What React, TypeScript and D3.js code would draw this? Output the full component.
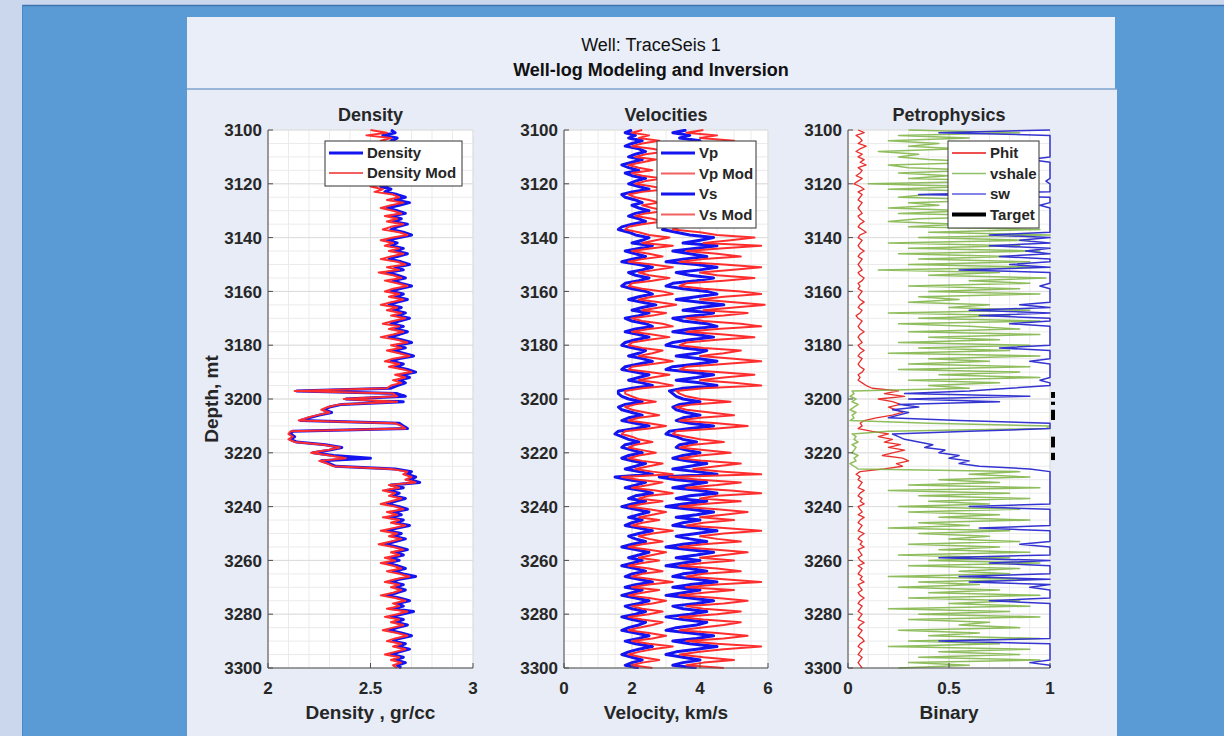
import React from 'react';
import * as d3 from 'd3';

// ---------- data (1 m sampling, 3100 .. 3300 m) ----------
const depthStart = 3100;
const depthEnd = 3300;
const depthTicks = [3100, 3120, 3140, 3160, 3180, 3200, 3220, 3240, 3260, 3280, 3300];
const densityTicks = [2, 2.5, 3];
const velocityTicks = [0, 2, 4, 6];
const binaryTicks = [0, 0.5, 1];

const density = [
  2.60, 2.62, 2.56, 2.63, 2.60, 2.64, 2.58, 2.62, 2.60, 2.63, 2.57, 2.61, 2.59, 2.64, 2.58, 2.62, 2.56, 2.60, 2.63, 2.58,
  2.62, 2.55, 2.60, 2.57, 2.63, 2.67, 2.62, 2.69, 2.64, 2.58, 2.63, 2.67, 2.60, 2.65, 2.61, 2.68, 2.63, 2.60, 2.66, 2.70,
  2.64, 2.58, 2.63, 2.60, 2.66, 2.62, 2.68, 2.63, 2.59, 2.65, 2.69, 2.62, 2.66, 2.58, 2.63, 2.67, 2.61, 2.65, 2.70, 2.64,
  2.60, 2.66, 2.62, 2.68, 2.63, 2.59, 2.65, 2.61, 2.67, 2.63, 2.69, 2.64, 2.60, 2.66, 2.62, 2.68, 2.64, 2.59, 2.65, 2.70,
  2.63, 2.67, 2.61, 2.66, 2.71, 2.64, 2.60, 2.66, 2.62, 2.68, 2.72, 2.65, 2.69, 2.64, 2.67, 2.63, 2.60, 2.14, 2.63, 2.67,
  2.38, 2.66, 2.36, 2.30, 2.27, 2.31, 2.25, 2.20, 2.16, 2.64, 2.66, 2.68, 2.12, 2.11, 2.13, 2.11, 2.14, 2.28, 2.36, 2.30,
  2.22, 2.32, 2.50, 2.26, 2.30, 2.33, 2.62, 2.70, 2.68, 2.72, 2.69, 2.74, 2.60, 2.66, 2.58, 2.64, 2.61, 2.67, 2.62, 2.58,
  2.64, 2.68, 2.61, 2.65, 2.59, 2.66, 2.62, 2.69, 2.63, 2.58, 2.65, 2.61, 2.67, 2.62, 2.57, 2.63, 2.68, 2.62, 2.66, 2.60,
  2.64, 2.58, 2.63, 2.67, 2.61, 2.66, 2.72, 2.64, 2.60, 2.66, 2.62, 2.67, 2.63, 2.58, 2.64, 2.69, 2.63, 2.66, 2.61, 2.71,
  2.65, 2.60, 2.66, 2.62, 2.68, 2.63, 2.59, 2.65, 2.70, 2.64, 2.61, 2.67, 2.63, 2.69, 2.64, 2.60, 2.66, 2.62, 2.67, 2.63, 2.65,
];

const densityMod = [
  2.50, 2.58, 2.48, 2.60, 2.55, 2.62, 2.54, 2.60, 2.57, 2.61, 2.53, 2.59, 2.56, 2.62, 2.54, 2.60, 2.52, 2.58, 2.61, 2.54,
  2.58, 2.50, 2.56, 2.52, 2.61, 2.64, 2.58, 2.66, 2.60, 2.55, 2.61, 2.65, 2.57, 2.63, 2.58, 2.66, 2.60, 2.56, 2.64, 2.68,
  2.61, 2.55, 2.61, 2.57, 2.64, 2.59, 2.66, 2.60, 2.55, 2.63, 2.67, 2.58, 2.64, 2.54, 2.61, 2.65, 2.57, 2.63, 2.68, 2.61,
  2.57, 2.64, 2.59, 2.66, 2.60, 2.55, 2.63, 2.58, 2.65, 2.60, 2.67, 2.61, 2.56, 2.64, 2.59, 2.66, 2.61, 2.55, 2.63, 2.68,
  2.60, 2.65, 2.58, 2.64, 2.69, 2.61, 2.57, 2.64, 2.59, 2.66, 2.70, 2.62, 2.67, 2.61, 2.65, 2.60, 2.58, 2.13, 2.61, 2.63,
  2.37, 2.63, 2.35, 2.29, 2.26, 2.30, 2.24, 2.19, 2.15, 2.62, 2.65, 2.67, 2.11, 2.10, 2.12, 2.10, 2.13, 2.27, 2.35, 2.29,
  2.21, 2.30, 2.38, 2.25, 2.29, 2.32, 2.60, 2.68, 2.66, 2.70, 2.67, 2.72, 2.59, 2.64, 2.56, 2.62, 2.59, 2.65, 2.60, 2.55,
  2.62, 2.66, 2.58, 2.63, 2.56, 2.64, 2.60, 2.67, 2.61, 2.55, 2.63, 2.59, 2.65, 2.60, 2.54, 2.61, 2.66, 2.60, 2.64, 2.57,
  2.62, 2.55, 2.61, 2.65, 2.58, 2.64, 2.69, 2.62, 2.57, 2.64, 2.60, 2.65, 2.61, 2.55, 2.62, 2.67, 2.61, 2.64, 2.58, 2.68,
  2.63, 2.57, 2.64, 2.60, 2.66, 2.61, 2.56, 2.63, 2.68, 2.62, 2.58, 2.65, 2.61, 2.67, 2.62, 2.57, 2.64, 2.60, 2.65, 2.61, 2.63,
];

const vp = [
  3.6, 3.2, 3.7, 3.4, 4.0, 3.5, 3.2, 3.9, 4.2, 3.7, 3.3, 4.0, 3.5, 3.0, 3.4, 3.9, 3.2, 3.5, 4.2, 3.7,
  3.3, 3.9, 4.4, 3.5, 3.0, 3.2, 3.7, 4.0, 3.5, 3.9, 4.4, 3.7, 3.3, 3.9, 4.2, 3.5, 3.0, 2.9, 3.3, 3.7,
  4.4, 4.0, 3.5, 4.5, 3.9, 3.2, 3.7, 4.2, 3.5, 3.0, 3.9, 4.5, 4.0, 3.3, 3.7, 4.4, 3.9, 3.2, 3.0, 3.5,
  4.2, 4.5, 3.9, 3.3, 4.0, 4.7, 4.0, 3.5, 4.4, 3.9, 3.2, 3.5, 4.2, 4.5, 3.7, 3.2, 3.9, 4.4, 3.7, 3.2,
  3.0, 3.5, 4.2, 3.9, 3.3, 4.0, 4.5, 3.9, 3.2, 3.0, 3.7, 4.4, 3.9, 3.3, 4.0, 4.5, 3.5, 3.1, 3.2, 3.3,
  3.5, 4.0, 3.4, 3.2, 3.3, 3.6, 4.0, 3.5, 3.3, 3.7, 4.4, 3.7, 3.1, 3.0, 3.3, 3.5, 3.9, 3.4, 3.3, 3.6,
  4.0, 3.5, 3.2, 3.6, 4.2, 3.7, 3.2, 3.9, 4.5, 2.8, 3.3, 4.2, 3.7, 3.2, 4.0, 4.5, 3.7, 3.3, 4.2, 3.5,
  3.0, 3.7, 4.4, 3.9, 3.3, 4.0, 3.5, 3.2, 3.9, 4.5, 3.9, 3.3, 3.7, 4.2, 3.5, 3.0, 3.7, 4.4, 3.9, 3.3,
  4.0, 3.5, 3.0, 3.7, 4.2, 3.5, 3.2, 3.9, 4.5, 3.7, 3.2, 4.0, 3.5, 3.0, 3.7, 4.4, 3.9, 3.2, 3.5, 4.2,
  3.7, 3.0, 3.5, 4.2, 3.9, 3.3, 3.0, 3.7, 4.4, 3.9, 3.2, 3.7, 4.5, 3.9, 3.3, 3.0, 3.5, 4.0, 3.5, 3.2, 3.9,
];

const vpMod = [
  4.1, 3.6, 4.5, 4.0, 5.0, 4.1, 3.6, 4.7, 5.4, 4.3, 3.8, 4.9, 4.1, 3.4, 4.0, 4.7, 3.6, 4.1, 5.2, 4.3,
  3.8, 4.7, 5.4, 4.1, 3.4, 3.8, 4.5, 5.0, 4.1, 4.7, 5.4, 4.3, 3.8, 4.7, 5.2, 4.1, 3.4, 3.2, 4.0, 4.5,
  5.6, 4.9, 4.1, 5.8, 4.7, 3.6, 4.5, 5.2, 4.1, 3.4, 4.7, 5.8, 4.9, 4.0, 4.5, 5.6, 4.7, 3.6, 3.4, 4.1,
  5.2, 5.8, 4.7, 4.0, 5.0, 5.9, 5.0, 4.1, 5.4, 4.7, 3.6, 4.1, 5.2, 5.8, 4.5, 3.6, 4.7, 5.6, 4.5, 3.6,
  3.4, 4.1, 5.2, 4.7, 4.0, 5.0, 5.8, 4.7, 3.6, 3.4, 4.5, 5.6, 4.7, 4.0, 5.0, 5.8, 4.1, 3.3, 3.4, 3.6,
  4.0, 4.9, 3.8, 3.3, 3.6, 4.3, 5.0, 4.0, 3.4, 4.5, 5.4, 4.5, 3.3, 3.2, 3.6, 4.0, 4.7, 3.8, 3.4, 4.1,
  4.9, 4.0, 3.4, 4.1, 5.2, 4.5, 3.8, 4.7, 5.8, 3.1, 4.0, 5.2, 4.5, 3.6, 4.9, 5.8, 4.5, 4.0, 5.2, 4.1,
  3.4, 4.5, 5.4, 4.7, 4.0, 5.0, 4.1, 3.6, 4.7, 5.8, 4.7, 4.0, 4.5, 5.2, 4.1, 3.4, 4.5, 5.4, 4.7, 4.0,
  5.0, 4.1, 3.4, 4.5, 5.2, 4.1, 3.6, 4.7, 5.8, 4.5, 3.6, 5.0, 4.1, 3.4, 4.5, 5.4, 4.7, 3.6, 4.1, 5.2,
  4.5, 3.4, 4.1, 5.2, 4.7, 4.0, 3.4, 4.5, 5.4, 4.7, 3.6, 4.5, 5.8, 4.7, 4.0, 3.4, 4.1, 5.0, 4.1, 3.6, 4.7,
];

const vs = [
  2.0, 1.8, 2.1, 1.9, 2.3, 2.0, 1.8, 2.2, 2.4, 2.1, 1.9, 2.3, 2.0, 1.7, 1.9, 2.2, 1.8, 2.0, 2.4, 2.1,
  1.9, 2.2, 2.5, 2.0, 1.7, 1.8, 2.1, 2.3, 2.0, 2.2, 2.5, 2.1, 1.9, 2.2, 2.4, 2.0, 1.7, 1.6, 1.9, 2.1,
  2.5, 2.3, 2.0, 2.6, 2.2, 1.8, 2.1, 2.4, 2.0, 1.7, 2.2, 2.6, 2.3, 1.9, 2.1, 2.5, 2.2, 1.8, 1.7, 2.0,
  2.4, 2.6, 2.2, 1.9, 2.3, 2.7, 2.3, 2.0, 2.5, 2.2, 1.8, 2.0, 2.4, 2.6, 2.1, 1.8, 2.2, 2.5, 2.1, 1.8,
  1.7, 2.0, 2.4, 2.2, 1.9, 2.3, 2.6, 2.2, 1.8, 1.7, 2.1, 2.5, 2.2, 1.9, 2.3, 2.6, 2.0, 1.6, 1.6, 1.7,
  1.9, 2.3, 1.8, 1.6, 1.7, 2.0, 2.3, 1.9, 1.7, 2.1, 2.5, 2.1, 1.6, 1.5, 1.7, 1.9, 2.2, 1.8, 1.7, 2.0,
  2.3, 1.9, 1.7, 2.0, 2.4, 2.1, 1.8, 2.2, 2.6, 1.5, 1.9, 2.4, 2.1, 1.8, 2.3, 2.6, 2.1, 1.9, 2.4, 2.0,
  1.7, 2.1, 2.5, 2.2, 1.9, 2.3, 2.0, 1.8, 2.2, 2.6, 2.2, 1.9, 2.1, 2.4, 2.0, 1.7, 2.1, 2.5, 2.2, 1.9,
  2.3, 2.0, 1.7, 2.1, 2.4, 2.0, 1.8, 2.2, 2.6, 2.1, 1.8, 2.3, 2.0, 1.7, 2.1, 2.5, 2.2, 1.8, 2.0, 2.4,
  2.1, 1.7, 2.0, 2.4, 2.2, 1.9, 1.7, 2.1, 2.5, 2.2, 1.8, 2.1, 2.6, 2.2, 1.9, 1.7, 2.0, 2.3, 2.0, 1.8, 2.2,
];

const vsMod = [
  2.3, 2.0, 2.5, 2.2, 2.8, 2.3, 2.0, 2.6, 3.0, 2.4, 2.1, 2.7, 2.3, 1.9, 2.2, 2.6, 2.0, 2.3, 2.9, 2.4,
  2.1, 2.6, 3.0, 2.3, 1.9, 2.1, 2.5, 2.8, 2.3, 2.6, 3.0, 2.4, 2.1, 2.6, 2.9, 2.3, 1.9, 1.8, 2.2, 2.5,
  3.1, 2.7, 2.3, 3.2, 2.6, 2.0, 2.5, 2.9, 2.3, 1.9, 2.6, 3.2, 2.7, 2.2, 2.5, 3.1, 2.6, 2.0, 1.9, 2.3,
  2.9, 3.2, 2.6, 2.2, 2.8, 3.3, 2.8, 2.3, 3.0, 2.6, 2.0, 2.3, 2.9, 3.2, 2.5, 2.0, 2.6, 3.1, 2.5, 2.0,
  1.9, 2.3, 2.9, 2.6, 2.2, 2.8, 3.2, 2.6, 2.0, 1.9, 2.5, 3.1, 2.6, 2.2, 2.8, 3.2, 2.3, 1.8, 1.8, 2.0,
  2.2, 2.7, 2.1, 1.8, 2.0, 2.4, 2.8, 2.2, 1.9, 2.5, 3.0, 2.5, 1.8, 1.7, 2.0, 2.2, 2.6, 2.1, 1.9, 2.3,
  2.7, 2.2, 1.9, 2.3, 2.9, 2.5, 2.1, 2.6, 3.2, 1.7, 2.2, 2.9, 2.5, 2.0, 2.7, 3.2, 2.5, 2.2, 2.9, 2.3,
  1.9, 2.5, 3.0, 2.6, 2.2, 2.8, 2.3, 2.0, 2.6, 3.2, 2.6, 2.2, 2.5, 2.9, 2.3, 1.9, 2.5, 3.0, 2.6, 2.2,
  2.8, 2.3, 1.9, 2.5, 2.9, 2.3, 2.0, 2.6, 3.2, 2.5, 2.0, 2.8, 2.3, 1.9, 2.5, 3.0, 2.6, 2.0, 2.3, 2.9,
  2.5, 1.9, 2.3, 2.9, 2.6, 2.2, 1.9, 2.5, 3.0, 2.6, 2.0, 2.5, 3.2, 2.6, 2.2, 1.9, 2.3, 2.8, 2.3, 2.0, 2.6,
];

const phit = [
  0.05, 0.08, 0.04, 0.06, 0.07, 0.05, 0.09, 0.06, 0.04, 0.07, 0.05, 0.08, 0.06, 0.09, 0.05, 0.07, 0.06, 0.04, 0.07, 0.05,
  0.03, 0.06, 0.08, 0.05, 0.07, 0.06, 0.05, 0.07, 0.06, 0.05, 0.06, 0.07, 0.05, 0.06, 0.08, 0.06, 0.05, 0.07, 0.09, 0.06,
  0.05, 0.07, 0.06, 0.05, 0.06, 0.08, 0.06, 0.05, 0.07, 0.06, 0.05, 0.06, 0.07, 0.05, 0.06, 0.08, 0.07, 0.05, 0.06, 0.05,
  0.07, 0.06, 0.05, 0.06, 0.08, 0.06, 0.05, 0.07, 0.06, 0.04, 0.05, 0.07, 0.06, 0.05, 0.06, 0.08, 0.06, 0.05, 0.06, 0.07,
  0.05, 0.06, 0.08, 0.06, 0.05, 0.07, 0.06, 0.05, 0.06, 0.08, 0.07, 0.05, 0.06, 0.05, 0.07, 0.09, 0.12, 0.25, 0.18, 0.28,
  0.15, 0.22, 0.26, 0.20, 0.24, 0.27, 0.22, 0.14, 0.08, 0.06, 0.07, 0.05, 0.12, 0.20, 0.15, 0.22, 0.18, 0.26, 0.20, 0.28,
  0.22, 0.17, 0.27, 0.30, 0.24, 0.27, 0.18, 0.06, 0.04, 0.06, 0.05, 0.07, 0.06, 0.05, 0.08, 0.06, 0.05, 0.07, 0.06, 0.08,
  0.05, 0.06, 0.07, 0.05, 0.08, 0.06, 0.05, 0.07, 0.06, 0.05, 0.08, 0.06, 0.05, 0.07, 0.06, 0.08, 0.05, 0.06, 0.07, 0.05,
  0.06, 0.08, 0.05, 0.07, 0.06, 0.05, 0.07, 0.06, 0.08, 0.05, 0.06, 0.07, 0.05, 0.06, 0.08, 0.06, 0.05, 0.07, 0.06, 0.05,
  0.07, 0.06, 0.05, 0.08, 0.06, 0.05, 0.07, 0.06, 0.05, 0.07, 0.08, 0.06, 0.05, 0.07, 0.06, 0.05, 0.07, 0.06, 0.05, 0.06, 0.07,
];

const vshale = [
  0.30, 0.85, 0.25, 0.60, 0.20, 0.45, 0.30, 0.55, 0.15, 0.35, 0.25, 0.40, 0.70, 0.20, 0.30, 0.65, 0.25, 0.50, 0.30, 0.80,
  0.10, 0.60, 0.20, 0.90, 0.40, 0.25, 0.75, 0.30, 0.45, 0.20, 0.60, 0.25, 0.85, 0.35, 0.20, 0.55, 0.30, 0.95, 0.40, 1.00,
  0.35, 0.90, 0.20, 0.85, 0.30, 0.95, 0.25, 0.80, 0.35, 0.90, 0.30, 0.95, 0.15, 0.75, 0.40, 0.98, 0.60, 0.90, 0.30, 0.85,
  0.40, 0.95, 0.35, 0.55, 0.30, 0.70, 0.50, 0.90, 0.20, 0.80, 0.35, 0.95, 0.25, 0.60, 0.85, 0.30, 0.95, 0.40, 0.75, 0.25,
  0.90, 0.35, 0.80, 0.20, 0.95, 0.40, 0.70, 0.30, 0.90, 0.25, 0.85, 0.45, 0.95, 0.30, 0.75, 0.40, 0.60, 0.02, 0.03, 0.01,
  0.04, 0.02, 0.05, 0.03, 0.01, 0.04, 0.02, 0.03, 0.01, 0.40, 1.00, 0.98, 0.20, 0.02, 0.04, 0.03, 0.05, 0.02, 0.04, 0.03,
  0.02, 0.05, 0.03, 0.04, 0.01, 0.03, 0.05, 0.85, 0.60, 0.90, 0.45, 0.75, 0.30, 0.95, 0.20, 0.80, 0.35, 0.90, 0.40, 0.70,
  0.25, 0.85, 0.30, 0.75, 0.45, 0.90, 0.35, 0.60, 0.20, 0.80, 0.35, 0.70, 0.50, 0.85, 0.30, 0.75, 0.45, 0.90, 0.25, 0.80,
  0.40, 0.95, 0.30, 0.85, 0.55, 0.80, 0.20, 0.90, 0.35, 0.65, 0.25, 0.75, 0.40, 0.95, 0.30, 0.85, 0.50, 0.90, 0.20, 0.80,
  0.35, 0.95, 0.30, 0.70, 0.55, 0.85, 0.25, 0.65, 0.40, 0.95, 0.30, 0.75, 0.20, 0.90, 0.45, 0.85, 0.35, 0.95, 0.30, 0.60, 0.25,
];

const sw = [
  1.00, 0.45, 1.00, 1.00, 1.00, 1.00, 1.00, 1.00, 1.00, 1.00, 1.00, 0.90, 1.00, 1.00, 1.00, 1.00, 1.00, 1.00, 1.00, 0.98,
  1.00, 1.00, 1.00, 1.00, 0.35, 1.00, 1.00, 1.00, 0.95, 1.00, 1.00, 1.00, 1.00, 1.00, 1.00, 1.00, 1.00, 1.00, 1.00, 0.70,
  1.00, 0.85, 1.00, 0.70, 1.00, 0.88, 1.00, 0.75, 1.00, 1.00, 0.80, 1.00, 0.55, 1.00, 1.00, 1.00, 1.00, 1.00, 0.95, 1.00,
  1.00, 1.00, 1.00, 1.00, 1.00, 0.85, 1.00, 0.60, 1.00, 0.65, 1.00, 1.00, 0.80, 1.00, 1.00, 1.00, 1.00, 1.00, 1.00, 1.00,
  1.00, 0.75, 1.00, 1.00, 1.00, 1.00, 0.90, 1.00, 1.00, 1.00, 1.00, 1.00, 1.00, 0.95, 1.00, 1.00, 0.80, 0.60, 0.28, 0.90,
  0.30, 0.75, 0.25, 0.35, 0.22, 0.30, 0.25, 0.20, 0.55, 1.00, 1.00, 1.00, 0.60, 0.22, 0.25, 0.28, 0.35, 0.42, 0.38, 0.48,
  0.45, 0.55, 0.50, 0.60, 0.55, 0.65, 0.90, 1.00, 1.00, 1.00, 1.00, 1.00, 1.00, 1.00, 1.00, 1.00, 1.00, 1.00, 1.00, 1.00,
  0.60, 1.00, 1.00, 1.00, 1.00, 1.00, 1.00, 1.00, 0.65, 1.00, 1.00, 1.00, 1.00, 1.00, 0.85, 1.00, 1.00, 1.00, 1.00, 0.45,
  1.00, 0.70, 1.00, 1.00, 1.00, 1.00, 0.55, 1.00, 0.60, 1.00, 0.90, 1.00, 1.00, 1.00, 1.00, 0.70, 1.00, 1.00, 1.00, 1.00,
  1.00, 1.00, 1.00, 1.00, 1.00, 1.00, 1.00, 1.00, 1.00, 1.00, 0.45, 1.00, 1.00, 1.00, 1.00, 1.00, 1.00, 1.00, 0.90, 1.00, 1.00,
];

// target flag intervals (top, bottom depth), flag value = 1
const targetTops = [3197.4, 3201.0, 3204.0, 3214.0, 3220.0];
const targetBases = [3199.6, 3202.2, 3207.8, 3218.0, 3222.7];
const targetValue = 1.015;

// ---------- layout ----------
const W = 1224;
const H = 736;
const AX_TOP = 130;
const AX_BOTTOM = 668;
const FONT = "'Liberation Sans', Arial, Helvetica, sans-serif";
const INK = '#262626';

const yScale = d3.scaleLinear().domain([depthStart, depthEnd]).range([AX_TOP, AX_BOTTOM]);
const minorDepths = d3.range(depthStart, depthEnd + 0.01, 5);

type Series = { values: number[]; color: string; width: number; opacity?: number };
type LegendItem = { label: string; color: string; width: number };

type TrackProps = {
  id: string;
  x0: number;
  x1: number;
  domain: [number, number];
  ticks: number[];
  minorStep: number;
  title: string;
  xlabel: string;
  series: Series[];
  legend: LegendItem[];
  legendBox: { x: number; y: number; w: number; rowH: number; lineW: number };
  extra?: (xs: d3.ScaleLinear<number, number>) => React.ReactNode;
};

function Track(p: TrackProps) {
  const xs = d3.scaleLinear().domain(p.domain).range([p.x0, p.x1]);
  const minorX = d3.range(p.domain[0], p.domain[1] + 1e-9, p.minorStep);
  const line = (vals: number[]) =>
    d3
      .line<number>()
      .x((v) => xs(v))
      .y((_, i) => yScale(depthStart + i))(vals) || '';
  const cx = (p.x0 + p.x1) / 2;
  const lb = p.legendBox;
  const lh = lb.rowH * p.legend.length + 5;
  return (
    <g>
      <defs>
        <clipPath id={`clip-${p.id}`}>
          <rect x={p.x0} y={AX_TOP - 1} width={p.x1 - p.x0 + 1} height={AX_BOTTOM - AX_TOP + 2} />
        </clipPath>
      </defs>
      <rect x={p.x0} y={AX_TOP} width={p.x1 - p.x0} height={AX_BOTTOM - AX_TOP} fill="#ffffff" />
      {/* minor grid */}
      {minorX.map((v, i) => (
        <line key={`mx${i}`} x1={xs(v)} x2={xs(v)} y1={AX_TOP} y2={AX_BOTTOM} stroke="#ebebeb" strokeWidth={1} />
      ))}
      {minorDepths.map((d, i) => (
        <line key={`my${i}`} x1={p.x0} x2={p.x1} y1={yScale(d)} y2={yScale(d)} stroke="#ebebeb" strokeWidth={1} />
      ))}
      {/* major grid */}
      {p.ticks.map((v, i) => (
        <line key={`gx${i}`} x1={xs(v)} x2={xs(v)} y1={AX_TOP} y2={AX_BOTTOM} stroke="#dcdcdc" strokeWidth={1} />
      ))}
      {depthTicks.map((d, i) => (
        <line key={`gy${i}`} x1={p.x0} x2={p.x1} y1={yScale(d)} y2={yScale(d)} stroke="#dcdcdc" strokeWidth={1} />
      ))}
      {/* curves */}
      <g clipPath={`url(#clip-${p.id})`}>
        {p.series.map((s, i) => (
          <path
            key={`s${i}`}
            d={line(s.values)}
            fill="none"
            stroke={s.color}
            strokeWidth={s.width}
            strokeOpacity={s.opacity ?? 1}
            strokeLinejoin="round"
          />
        ))}
      </g>
      {p.extra ? p.extra(xs) : null}
      {/* axes lines */}
      <line x1={p.x0} x2={p.x0} y1={AX_TOP} y2={AX_BOTTOM} stroke="#4d4d4d" strokeWidth={1} />
      <line x1={p.x0} x2={p.x1} y1={AX_BOTTOM} y2={AX_BOTTOM} stroke="#4d4d4d" strokeWidth={1} />
      {depthTicks.map((d, i) => (
        <g key={`yt${i}`}>
          <line x1={p.x0} x2={p.x0 + 5} y1={yScale(d)} y2={yScale(d)} stroke="#4d4d4d" />
          <text
            x={p.x0 - 6}
            y={yScale(d)}
            dy="0.36em"
            textAnchor="end"
            fontFamily={FONT}
            fontWeight="bold"
            fontSize={17}
            fill={INK}
          >
            {d}
          </text>
        </g>
      ))}
      {p.ticks.map((v, i) => (
        <g key={`xt${i}`}>
          <line x1={xs(v)} x2={xs(v)} y1={AX_BOTTOM} y2={AX_BOTTOM - 5} stroke="#4d4d4d" />
          <text
            x={xs(v)}
            y={694}
            textAnchor="middle"
            fontFamily={FONT}
            fontWeight="bold"
            fontSize={17}
            fill={INK}
          >
            {String(v)}
          </text>
        </g>
      ))}
      <text x={cx} y={121} textAnchor="middle" fontFamily={FONT} fontWeight="bold" fontSize={18} fill={INK}>
        {p.title}
      </text>
      <text x={cx} y={719} textAnchor="middle" fontFamily={FONT} fontWeight="bold" fontSize={19} fill={INK}>
        {p.xlabel}
      </text>
      {/* legend */}
      <rect x={lb.x} y={lb.y} width={lb.w} height={lh} fill="#ffffff" stroke="#333333" strokeWidth={1} />
      {p.legend.map((it, i) => {
        const yy = lb.y + 12 + i * lb.rowH;
        return (
          <g key={`lg${i}`}>
            <line x1={lb.x + 4} x2={lb.x + 4 + lb.lineW} y1={yy} y2={yy} stroke={it.color} strokeWidth={it.width} />
            <text
              x={lb.x + lb.lineW + 8}
              y={yy}
              dy="0.36em"
              fontFamily={FONT}
              fontWeight="bold"
              fontSize={15}
              fill={INK}
            >
              {it.label}
            </text>
          </g>
        );
      })}
    </g>
  );
}

const BLUE = '#1414f0';
const RED = '#ff2e2e';

export default function App() {
  return (
    <svg width={W} height={H} style={{ position: 'absolute', left: 0, top: 0 }} xmlns="http://www.w3.org/2000/svg">
      {/* backdrop */}
      <rect x={0} y={0} width={W} height={H} fill="#cbd7ec" />
      <rect x={22} y={5} width={W - 22} height={H - 5} fill="#5b9bd5" />
      <line x1={22} x2={W} y1={5.5} y2={5.5} stroke="#3f74b0" strokeWidth={1.5} />
      <line x1={22.5} x2={22.5} y1={5} y2={H} stroke="#4d88c6" strokeWidth={1} />
      {/* figure */}
      <rect x={187} y={17} width={928} height={72} fill="#e9eef8" />
      <rect x={187} y={89} width={930} height={H - 89} fill="#e7ecf6" />
      <line x1={187} x2={1117} y1={89} y2={89} stroke="#7ea3cc" strokeWidth={1.5} />
      <text x={651} y={51} textAnchor="middle" fontFamily={FONT} fontSize={18} fill="#111">
        Well: TraceSeis 1
      </text>
      <text x={651} y={76} textAnchor="middle" fontFamily={FONT} fontWeight="bold" fontSize={18} fill="#111">
        Well-log Modeling and Inversion
      </text>
      <text
        transform={`translate(218, ${(AX_TOP + AX_BOTTOM) / 2}) rotate(-90)`}
        textAnchor="middle"
        fontFamily={FONT}
        fontWeight="bold"
        fontSize={19}
        fill={INK}
      >
        Depth, mt
      </text>

      <Track
        id="den"
        x0={268}
        x1={473}
        domain={[2, 3]}
        ticks={densityTicks}
        minorStep={0.1}
        title="Density"
        xlabel="Density , gr/cc"
        series={[
          { values: density, color: BLUE, width: 3 },
          { values: densityMod, color: RED, width: 2 },
        ]}
        legend={[
          { label: 'Density', color: BLUE, width: 3 },
          { label: 'Density Mod', color: '#f26060', width: 2 },
        ]}
        legendBox={{ x: 325, y: 141, w: 137, rowH: 20, lineW: 34 }}
      />
      <Track
        id="vel"
        x0={564}
        x1={768}
        domain={[0, 6]}
        ticks={velocityTicks}
        minorStep={0.5}
        title="Velocities"
        xlabel="Velocity, km/s"
        series={[
          { values: vp, color: BLUE, width: 3 },
          { values: vs, color: BLUE, width: 3 },
          { values: vpMod, color: RED, width: 2 },
          { values: vsMod, color: RED, width: 2 },
        ]}
        legend={[
          { label: 'Vp', color: BLUE, width: 3 },
          { label: 'Vp Mod', color: '#f26060', width: 2 },
          { label: 'Vs', color: BLUE, width: 3 },
          { label: 'Vs Mod', color: '#f26060', width: 2 },
        ]}
        legendBox={{ x: 657, y: 141, w: 99, rowH: 20.5, lineW: 34 }}
      />
      <Track
        id="pet"
        x0={848}
        x1={1050}
        domain={[0, 1]}
        ticks={binaryTicks}
        minorStep={0.1}
        title="Petrophysics"
        xlabel="Binary"
        series={[
          { values: phit, color: '#e8302e', width: 1.3 },
          { values: vshale, color: '#7cb342', width: 1.5, opacity: 0.85 },
          { values: sw, color: '#3434d0', width: 1.5 },
        ]}
        legend={[
          { label: 'Phit', color: '#ee5050', width: 2 },
          { label: 'vshale', color: '#8fc06a', width: 1.5 },
          { label: 'sw', color: '#5a5ae0', width: 1.5 },
          { label: 'Target', color: '#000000', width: 4 },
        ]}
        legendBox={{ x: 948, y: 141, w: 91, rowH: 20.5, lineW: 34 }}
        extra={(xs) =>
          targetTops.map((t, i) => (
            <line
              key={`tg${i}`}
              x1={xs(targetValue)}
              x2={xs(targetValue)}
              y1={yScale(t)}
              y2={yScale(targetBases[i])}
              stroke="#000"
              strokeWidth={4}
            />
          ))
        }
      />
    </svg>
  );
}
